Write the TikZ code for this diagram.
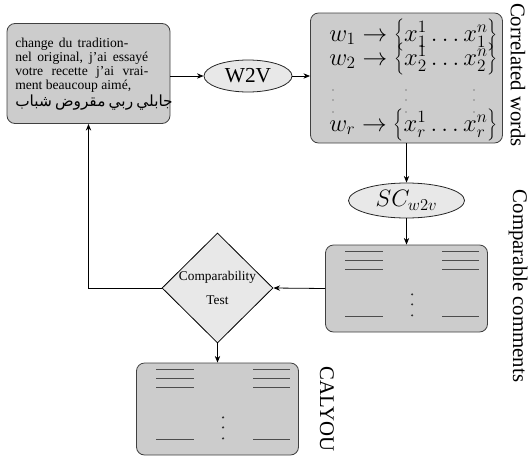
\RequirePackage{fix-cm}
\documentclass[tikz,border=0pt]{standalone}
\usepackage[no-math]{fontspec}
\setmainfont{Liberation Serif}
\newfontfamily\arabicfont[Script=Arabic]{DejaVu Sans}
\TeXXeTstate=1
\usetikzlibrary{shapes.geometric,arrows.meta}
\begin{document}
\begin{tikzpicture}[x=0.75pt,y=-0.75pt,
  box/.style={draw=black!75, fill=gray!40, rounded corners=6pt, line width=0.6pt, inner sep=0pt},
  oval/.style={ellipse, draw=black!85, fill=gray!18, line width=0.6pt, inner sep=0pt},
  arr/.style={-{Stealth[length=5pt,width=4pt]}, line width=0.6pt},
  sidelabel/.style={rotate=-90, font=\fontsize{15.6}{18}\selectfont},
  srcline/.style={anchor=base west, inner sep=0pt, font=\fontsize{10.2}{12}\selectfont},
  mathrow/.style={anchor=west, inner sep=0pt, font=\fontsize{18.5}{20}\selectfont},
  bar/.style={draw=black!70, line width=0.8pt},
  dot/.style={fill=black!80}]
\useasboundingbox (0,0) rectangle (528,457);

% source comment box
\node[box, minimum width=122.25pt, minimum height=75pt] (src) at (88.5,73.5) {};
\node[srcline] (s1) at (15,47) {\makebox[84.75pt][s]{change du tradition-}};
\node[srcline] (s2) at (15,61) {\makebox[99.75pt][s]{nel original, j'ai essayé}};
\node[srcline] (s3) at (15,75) {\makebox[99.75pt][s]{votre recette j'ai vrai-}};
\node[srcline] (s4) at (15,89) {ment beaucoup aimé,};
\node[srcline] (s5) at (15,106) {\makebox[100.5pt][s]{\fontsize{11.5}{12}\arabicfont\beginR جابلي ربي مقروض شباب\endR}};

% W2V
\node[oval, minimum width=66pt, minimum height=24pt, font=\fontsize{16}{18}\selectfont] (w2v) at (248,76) {W2V};

% correlated words box
\node[box, minimum width=144pt, minimum height=97.5pt] (emb) at (406.5,78) {};
\node[mathrow] (r1) at (329,35) {$w_1 \rightarrow \left\{x_1^1\ldots x_1^n\right\}$};
\node[mathrow] (r2) at (329,59) {$w_2 \rightarrow \left\{x_2^1\ldots x_2^n\right\}$};
\node[mathrow] (r3) at (329,125) {$w_r \rightarrow \left\{x_r^1\ldots x_r^n\right\}$};
\foreach \xx in {333,406,474}{
  \foreach \yy in {90,100,112}{\fill[dot] (\xx,\yy) circle (0.5pt);}
}

% SC_w2v
\node[oval, minimum width=87pt, minimum height=26.25pt, font=\fontsize{17.8}{19}\selectfont] (sc) at (406.5,200.5) {$SC_{w2v}$};

% comparable comments box
\node[box, minimum width=121.5pt, minimum height=65.25pt] (cmp) at (406.5,288.5) {};
% output box
\node[box, minimum width=121.5pt, minimum height=69pt] (out) at (217.5,409) {};
\foreach \b in {cmp,out}{
  \begin{scope}[shift={(\b.north west)}]
    \foreach \yy in {7,16,25}{
      \draw[bar] (20,\yy) -- (58,\yy);
      \draw[bar] (117,\yy) -- (154,\yy);
    }
  \end{scope}
  \begin{scope}[shift={(\b.south west)}]
    \draw[bar] (20,-16) -- (58,-16);
    \draw[bar] (117,-16) -- (154,-16);
    \foreach \yy in {-17,-28,-38}{\fill[dot] (87,\yy) circle (0.9pt);}
  \end{scope}
}

% comparability test
\node[diamond, draw=black, fill=gray!18, line width=0.6pt, minimum width=83.25pt, minimum height=82.5pt, inner sep=0pt] (test) at (217.5,288) {};
\node[font=\fontsize{10}{12}\selectfont, inner sep=0pt] (ta) at (217.5,277) {Comparability};
\node[font=\fontsize{10}{12}\selectfont, inner sep=0pt] (tb) at (217.5,300) {Test};

% side labels
\node[sidelabel] (lab1) at (518,75) {Correlated words};
\node[sidelabel] (lab2) at (518,286) {Comparable comments};
\node[sidelabel] (lab3) at (327,409) {CALYOU};

% connectors
\draw[arr] (src.east |- w2v.west) -- (w2v.west);
\draw[arr] (w2v.east) -- (emb.west |- w2v.east);
\draw[arr] (emb.south) -- (sc.north);
\draw[arr] (sc.south) -- (cmp.north);
\draw[arr] (cmp.west) -- (test.east);
\draw[arr] (test.west) -| (src.south);
\draw[arr] (test.south) -- (out.north);
\end{tikzpicture}
\end{document}
